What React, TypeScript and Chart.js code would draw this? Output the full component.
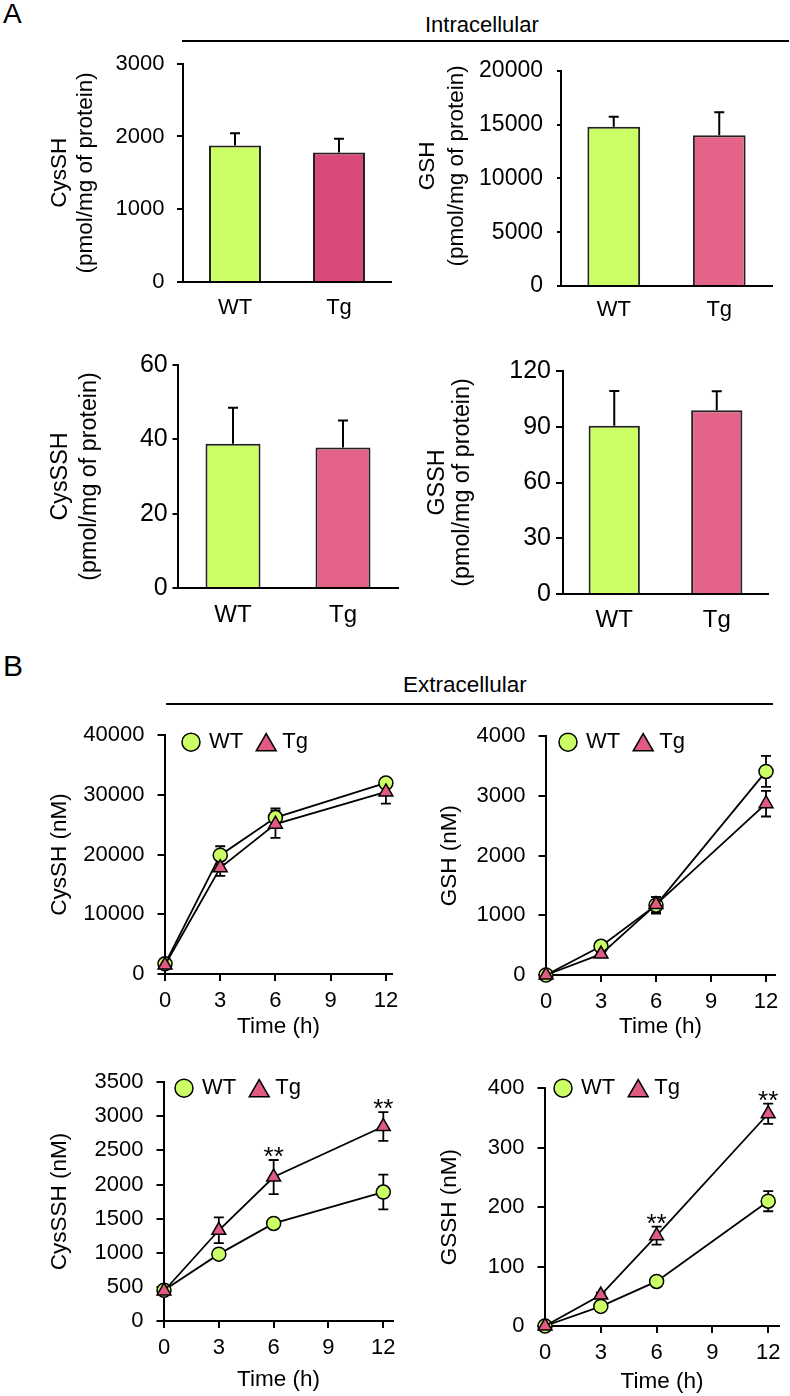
import React, { useEffect, useRef } from 'react';
import { Chart, registerables } from 'chart.js';

Chart.register(...registerables);

const FONT = "'Liberation Sans', Arial, Helvetica, sans-serif";
Chart.defaults.font.family = FONT;
Chart.defaults.color = '#000';

const WT_COLOR = '#CCFF66';
const TG_COLOR_DARK = '#D84A78';
const TG_COLOR = '#E46489';
const TG_MARK = '#E05A82';

// ---------- Panel A (intracellular) ----------
const groups = ['WT', 'Tg'];
const cysshIntra = [1875, 1780];
const cysshIntraErr = [170, 190];
const gshIntra = [14800, 14000];
const gshIntraErr = [920, 2150];
const cysSSHIntra = [38.8, 37.8];
const cysSSHIntraErr = [9.7, 7.3];
const gsshIntra = [90.5, 98.9];
const gsshIntraErr = [18.7, 10.2];

const yTicksA1 = [0, 1000, 2000, 3000];
const yTicksA2 = [0, 5000, 10000, 15000, 20000];
const yTicksA3 = [0, 20, 40, 60];
const yTicksA4 = [0, 30, 60, 90, 120];

// ---------- Panel B (extracellular) ----------
const timeH = [0, 3, 6, 12];
const xTicksB = [0, 3, 6, 9, 12];

const cysshWT = [1700, 19900, 26200, 32000];
const cysshWTErr = [200, 1500, 1550, 500];
const cysshTg = [1500, 17800, 25100, 30500];
const cysshTgErr = [200, 1350, 2300, 1950];

const gshWT = [0, 480, 1170, 3410];
const gshWTErr = [20, 40, 140, 260];
const gshTg = [0, 350, 1180, 2870];
const gshTgErr = [20, 30, 130, 215];

const cysSSHWT = [450, 980, 1430, 1890];
const cysSSHWTErr = [30, 40, 40, 255];
const cysSSHTg = [440, 1330, 2110, 2850];
const cysSSHTgErr = [30, 190, 250, 210];
const cysSSHSig = ['', '', '**', '**'];

const gsshWT = [0, 33, 75, 210];
const gsshWTErr = [2, 3, 4, 17];
const gsshTg = [0, 52, 152, 357];
const gsshTgErr = [2, 4, 15, 17];
const gsshSig = ['', '', '**', '**'];

const yTicksB1 = [0, 10000, 20000, 30000, 40000];
const yTicksB2 = [0, 1000, 2000, 3000, 4000];
const yTicksB3 = [0, 500, 1000, 1500, 2000, 2500, 3000, 3500];
const yTicksB4 = [0, 100, 200, 300, 400];

// ---------- plugins ----------
const valOf = (d: any) => (typeof d === 'number' ? d : d.y);

function drawErrors(chart: any, opts: any) {
  const ctx = chart.ctx;
  const ys = chart.scales.y;
  chart.data.datasets.forEach((ds: any, i: number) => {
    if (!ds.errors) return;
    const meta = chart.getDatasetMeta(i);
    meta.data.forEach((el: any, j: number) => {
      const v = valOf(ds.data[j]);
      const e = ds.errors[j];
      const x = el.x;
      const yTop = ys.getPixelForValue(v + e);
      const yBot = opts.mode === 'both' ? ys.getPixelForValue(v - e) : ys.getPixelForValue(v);
      const c = opts.cap;
      ctx.save();
      ctx.strokeStyle = '#000';
      ctx.lineWidth = opts.lineWidth;
      ctx.beginPath();
      ctx.moveTo(x, yTop);
      ctx.lineTo(x, yBot);
      ctx.moveTo(x - c, yTop);
      ctx.lineTo(x + c, yTop);
      if (opts.mode === 'both') {
        ctx.moveTo(x - c, yBot);
        ctx.lineTo(x + c, yBot);
      }
      ctx.stroke();
      ctx.restore();
    });
  });
}

function drawSig(chart: any, opts: any) {
  const ctx = chart.ctx;
  const ys = chart.scales.y;
  chart.data.datasets.forEach((ds: any, i: number) => {
    if (!ds.sig) return;
    const meta = chart.getDatasetMeta(i);
    meta.data.forEach((el: any, j: number) => {
      const s = ds.sig[j];
      if (!s) return;
      const v = valOf(ds.data[j]) + (ds.errors ? ds.errors[j] : 0);
      ctx.save();
      ctx.font = `${opts.sigSize}px ${FONT}`;
      ctx.fillStyle = '#000';
      ctx.textAlign = 'center';
      ctx.textBaseline = 'alphabetic';
      ctx.fillText(s, el.x, ys.getPixelForValue(v) + opts.sigOffset);
      ctx.restore();
    });
  });
}

const errorBarPlugin = {
  id: 'errorBars',
  beforeDatasetsDraw(chart: any, _args: any, opts: any) {
    if (opts && opts.mode === 'both') drawErrors(chart, opts);
  },
  afterDatasetsDraw(chart: any, _args: any, opts: any) {
    if (!opts) return;
    if (opts.mode === 'up') drawErrors(chart, opts);
    drawSig(chart, opts);
  },
};

function drawMarker(ctx: any, style: string, x: number, y: number, r: number, fill: string) {
  ctx.save();
  ctx.fillStyle = fill;
  ctx.strokeStyle = '#000';
  ctx.lineWidth = 1.5;
  ctx.beginPath();
  if (style === 'triangle') {
    const cy = y + r / 4;
    const s = Math.sin(Math.PI / 3) * r;
    ctx.moveTo(x, cy - r);
    ctx.lineTo(x + s, cy + r / 2);
    ctx.lineTo(x - s, cy + r / 2);
    ctx.closePath();
  } else {
    ctx.arc(x, y, r, 0, Math.PI * 2);
  }
  ctx.fill();
  ctx.stroke();
  ctx.restore();
}

const markerLegendPlugin = {
  id: 'markerLegend',
  afterDraw(chart: any, _args: any, opts: any) {
    if (!opts || !opts.display) return;
    const ctx = chart.ctx;
    const { left, top } = chart.chartArea;
    let x = left + opts.dx;
    const y = top + opts.dy;
    ctx.save();
    ctx.font = `${opts.fontSize}px ${FONT}`;
    ctx.textBaseline = 'middle';
    ctx.textAlign = 'left';
    chart.data.datasets.forEach((ds: any) => {
      const isTri = ds.pointStyle === 'triangle';
      drawMarker(ctx, ds.pointStyle, x, y, isTri ? opts.triR : opts.circR, ds.pointBackgroundColor);
      const tx = x + (isTri ? opts.triText : opts.circText);
      ctx.fillStyle = '#000';
      ctx.fillText(ds.label, tx, y);
      x = tx + ctx.measureText(ds.label).width + opts.itemGap;
    });
    ctx.restore();
  },
};

// ---------- config builders ----------
function yAxis(p: any) {
  return {
    type: 'linear',
    min: p.yTicks[0],
    max: p.yTicks[p.yTicks.length - 1],
    afterBuildTicks: (s: any) => {
      s.ticks = p.yTicks.map((v: number) => ({ value: v }));
    },
    grid: {
      display: true,
      drawOnChartArea: false,
      drawTicks: true,
      tickLength: p.tickLen,
      tickWidth: 2,
      tickColor: '#000',
      color: '#000',
      lineWidth: 2,
    },
    border: { display: true, color: '#000', width: 2 },
    ticks: {
      font: { size: p.tickSize, family: FONT },
      color: '#000',
      padding: p.tickPad,
      callback: (v: any) => `${v}`,
    },
    title: {
      display: true,
      text: p.title,
      color: '#000',
      font: { size: p.titleSize, family: FONT, lineHeight: p.titleLH },
      padding: { top: p.titlePad, bottom: 0 },
    },
    afterFit: (s: any) => {
      s.width = p.yW;
    },
  };
}

function barConfig(p: any) {
  return {
    type: 'bar',
    data: {
      labels: groups,
      datasets: [
        {
          data: p.values,
          errors: p.errors,
          backgroundColor: [WT_COLOR, p.tgColor],
          borderColor: '#222',
          borderWidth: 2,
          categoryPercentage: 0.5,
          barPercentage: 1,
        },
      ],
    },
    options: {
      responsive: false,
      animation: false,
      devicePixelRatio: 1,
      layout: { padding: { left: 0, top: p.padTop, right: p.padRight, bottom: 0 } },
      plugins: {
        legend: { display: false },
        tooltip: { enabled: false },
        errorBars: { mode: 'up', cap: 5, lineWidth: 2, sigSize: 26, sigOffset: 5 },
        markerLegend: { display: false },
      },
      scales: {
        x: {
          type: 'category',
          offset: true,
          grid: { display: false, drawTicks: false },
          border: { display: true, color: '#000', width: 2 },
          ticks: { font: { size: p.xFont, family: FONT }, color: '#000', padding: p.xPad },
          afterFit: (s: any) => {
            s.height = p.xH;
          },
        },
        y: yAxis(p),
      },
    },
    plugins: [errorBarPlugin, markerLegendPlugin],
  };
}

function lineConfig(p: any) {
  const pts = (vals: number[]) => timeH.map((t, i) => ({ x: t, y: vals[i] }));
  return {
    type: 'line',
    data: {
      datasets: [
        {
          label: 'WT',
          data: pts(p.wt),
          errors: p.wtErr,
          order: 1,
          clip: false,
          borderColor: '#000',
          borderWidth: 1.8,
          pointStyle: 'circle',
          pointRadius: 7,
          pointBackgroundColor: WT_COLOR,
          pointBorderColor: '#000',
          pointBorderWidth: 1.5,
          fill: false,
          tension: 0,
        },
        {
          label: 'Tg',
          data: pts(p.tg),
          errors: p.tgErr,
          sig: p.sig,
          order: 0,
          clip: false,
          borderColor: '#000',
          borderWidth: 1.8,
          pointStyle: 'triangle',
          pointRadius: 8,
          pointBackgroundColor: TG_MARK,
          pointBorderColor: '#000',
          pointBorderWidth: 1.5,
          fill: false,
          tension: 0,
        },
      ],
    },
    options: {
      responsive: false,
      animation: false,
      devicePixelRatio: 1,
      layout: { padding: { left: 0, top: p.padTop, right: p.padRight, bottom: 0 } },
      plugins: {
        legend: { display: false },
        tooltip: { enabled: false },
        errorBars: { mode: 'both', cap: 5, lineWidth: 1.8, sigSize: 26, sigOffset: 5 },
        markerLegend: {
          display: true,
          dx: p.legDx,
          dy: p.legDy,
          fontSize: 22,
          circR: 9,
          triR: 11.5,
          circText: 18,
          triText: 16,
          itemGap: 23,
        },
      },
      scales: {
        x: {
          type: 'linear',
          min: 0,
          max: p.xMax,
          afterBuildTicks: (s: any) => {
            s.ticks = xTicksB.map((v) => ({ value: v }));
          },
          grid: {
            display: true,
            drawOnChartArea: false,
            drawTicks: true,
            tickLength: 7,
            tickWidth: 2,
            tickColor: '#000',
            color: '#000',
            lineWidth: 2,
          },
          border: { display: true, color: '#000', width: 2 },
          ticks: {
            font: { size: 22, family: FONT },
            color: '#000',
            padding: 7,
            autoSkip: false,
            maxRotation: 0,
            callback: (v: any) => `${v}`,
          },
          title: {
            display: true,
            text: 'Time (h)',
            color: '#000',
            font: { size: 22.5, family: FONT, lineHeight: 1.17 },
            padding: { top: 0, bottom: 0 },
          },
          afterFit: (s: any) => {
            s.height = p.xH;
          },
        },
        y: yAxis(p),
      },
    },
    plugins: [errorBarPlugin, markerLegendPlugin],
  };
}

// ---------- panel specs ----------
const panels: any[] = [
  {
    left: 0, top: 38, w: 400, h: 284,
    cfg: () =>
      barConfig({
        values: cysshIntra, errors: cysshIntraErr, tgColor: TG_COLOR_DARK, yTicks: yTicksA1,
        yW: 183, padTop: 20, padRight: 9, xH: 40,
        title: ['CysSH', '(pmol/mg of protein)'], titleSize: 22.5, titleLH: 1.18, titlePad: 46.4,
        tickSize: 22, tickPad: 12.5, tickLen: 6, xFont: 22, xPad: 12.8,
      }),
  },
  {
    left: 395, top: 43, w: 395, h: 283,
    cfg: () =>
      barConfig({
        values: gshIntra, errors: gshIntraErr, tgColor: TG_COLOR, yTicks: yTicksA2,
        yW: 166, padTop: 20, padRight: 18, xH: 40,
        title: ['    GSH', '    (pmol/mg of protein)'], titleSize: 22.5, titleLH: 1.267, titlePad: 18.75,
        tickSize: 23, tickPad: 14, tickLen: 4, xFont: 22, xPad: 10.8,
      }),
  },
  {
    left: 0, top: 345, w: 410, h: 290,
    cfg: () =>
      barConfig({
        values: cysSSHIntra, errors: cysSSHIntraErr, tgColor: TG_COLOR, yTicks: yTicksA3,
        yW: 178, padTop: 20, padRight: 12, xH: 47,
        title: ['CysSSH', '(pmol/mg of protein)'], titleSize: 23.3, titleLH: 1.253, titlePad: 45.9,
        tickSize: 25, tickPad: 4.8, tickLen: 5.5, xFont: 24, xPad: 13.1,
      }),
  },
  {
    left: 395, top: 351, w: 395, h: 289,
    cfg: () =>
      barConfig({
        values: gsshIntra, errors: gsshIntraErr, tgColor: TG_COLOR, yTicks: yTicksA4,
        yW: 168, padTop: 20, padRight: 22, xH: 46,
        title: ['GSSH', '(pmol/mg of protein)'], titleSize: 23.3, titleLH: 1.073, titlePad: 30,
        tickSize: 25, tickPad: 5, tickLen: 7, xFont: 24, xPad: 11.5,
      }),
  },
  {
    left: 0, top: 709, w: 420, h: 331,
    cfg: () =>
      lineConfig({
        wt: cysshWT, wtErr: cysshWTErr, tg: cysshTg, tgErr: cysshTgErr, sig: null,
        yTicks: yTicksB1, xMax: 12.33, yW: 165, padTop: 20, padRight: 28, xH: 66,
        title: 'CysSH (nM)', titleSize: 22.5, titleLH: 1.17, titlePad: 46.8,
        tickSize: 22, tickPad: 13, tickLen: 7.5, legDx: 26, legDy: 7,
      }),
  },
  {
    left: 395, top: 710, w: 410, h: 330,
    cfg: () =>
      lineConfig({
        wt: gshWT, wtErr: gshWTErr, tg: gshTg, tgErr: gshTgErr, sig: null,
        yTicks: yTicksB2, xMax: 12.49, yW: 151, padTop: 20, padRight: 30, xH: 65,
        title: 'GSH (nM)', titleSize: 22.5, titleLH: 1.17, titlePad: 41.8,
        tickSize: 22, tickPad: 13, tickLen: 7.5, legDx: 22, legDy: 6,
      }),
  },
  {
    left: 0, top: 1056, w: 420, h: 337,
    cfg: () =>
      lineConfig({
        wt: cysSSHWT, wtErr: cysSSHWTErr, tg: cysSSHTg, tgErr: cysSSHTgErr, sig: cysSSHSig,
        yTicks: yTicksB3, xMax: 12.53, yW: 164, padTop: 20, padRight: 27, xH: 72,
        title: 'CysSSH (nM)', titleSize: 22.5, titleLH: 1.17, titlePad: 46.8,
        tickSize: 22, tickPad: 13, tickLen: 7.5, legDx: 20, legDy: 6,
      }),
  },
  {
    left: 395, top: 1062, w: 410, h: 333,
    cfg: () =>
      lineConfig({
        wt: gsshWT, wtErr: gsshWTErr, tg: gsshTg, tgErr: gsshTgErr, sig: gsshSig,
        yTicks: yTicksB4, xMax: 12.58, yW: 150, padTop: 20, padRight: 26, xH: 69,
        title: 'GSSH (nM)', titleSize: 22.5, titleLH: 1.17, titlePad: 41.8,
        tickSize: 22, tickPad: 13, tickLen: 7.5, legDx: 18, legDy: 0,
      }),
  },
];

function ChartPanel({ spec }: { spec: any }) {
  const ref = useRef<HTMLCanvasElement>(null);
  useEffect(() => {
    if (!ref.current) return;
    const chart = new Chart(ref.current, spec.cfg());
    return () => chart.destroy();
  }, [spec]);
  return (
    <canvas
      ref={ref}
      width={spec.w}
      height={spec.h}
      style={{ position: 'absolute', left: spec.left, top: spec.top, width: spec.w, height: spec.h }}
    />
  );
}

const textStyle = (size: number, left: number, top: number): React.CSSProperties => ({
  position: 'absolute',
  left,
  top,
  fontSize: size,
  lineHeight: `${size}px`,
  fontFamily: FONT,
  color: '#000',
  whiteSpace: 'nowrap',
});

export default function App() {
  return (
    <div
      style={{
        position: 'absolute',
        left: 0,
        top: 0,
        width: 790,
        height: 1396,
        overflow: 'hidden',
        background: '#fff',
        fontFamily: FONT,
      }}
    >
      <div style={textStyle(28, 3, -0.4)}>A</div>
      <div style={textStyle(30, 3, 651)}>B</div>
      <div style={textStyle(22, 425, 13.5)}>Intracellular</div>
      <div style={{ position: 'absolute', left: 182, top: 40, width: 607, height: 2, background: '#000' }} />
      <div style={textStyle(22.5, 403, 674)}>Extracellular</div>
      <div style={{ position: 'absolute', left: 166, top: 703, width: 607, height: 2, background: '#000' }} />
      {panels.map((p, i) => (
        <ChartPanel key={i} spec={p} />
      ))}
    </div>
  );
}
